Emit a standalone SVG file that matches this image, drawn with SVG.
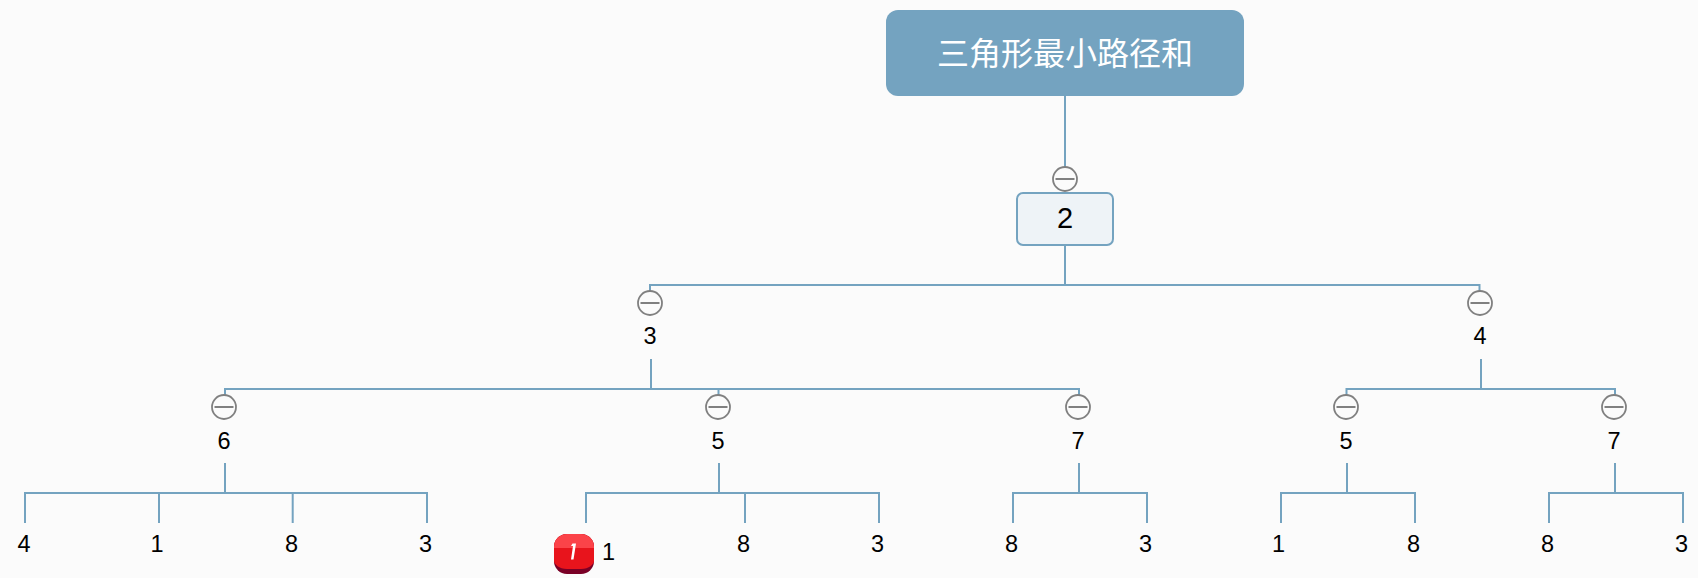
<svg xmlns="http://www.w3.org/2000/svg" width="1698" height="578" viewBox="0 0 1698 578">
<style>
.bg{fill:#fbfbfb}
.c{fill:none;stroke:#74a3c0;stroke-width:2}
.t{font-family:"Liberation Sans",sans-serif;font-size:23.500px;fill:#000;text-anchor:middle}
.root{fill:#74a3c0}
.rt{font-family:"Noto Sans CJK SC",sans-serif;font-size:32px;fill:#fff;text-anchor:middle}
.m circle{fill:#fbfbfb;stroke:#808080;stroke-width:1.800}
.m path{stroke:#808080;stroke-width:2;fill:none}
</style>
<defs>
<g id="minus" class="m"><circle r="12"/><path d="M-9.500 0H9.500"/></g>
</defs>
<rect class="bg" width="1698" height="578"/>
<g id="connectors">
<path class="c" d="M1065 96V168"/>
<path class="c" d="M1065 245V285M650 295V285H1479.500V295"/>
<path class="c" d="M651 359V389M225 399V389H1079V399M718.500 389V399"/>
<path class="c" d="M1481 359V389M1346.500 399V389H1615V399"/>
<path class="c" d="M225 463V493M25 523V493H427V523M159 493V523M292.700 493V523"/>
<path class="c" d="M719 463V493M586 523V493H879V523M745 493V523"/>
<path class="c" d="M1079 463V493M1013 523V493H1147V523"/>
<path class="c" d="M1347 463V493M1281 523V493H1415V523"/>
<path class="c" d="M1615 463V493M1549 523V493H1683V523"/>
</g>
<g id="root"><rect class="root" x="886" y="10" width="358" height="86" rx="12"/><text class="rt" x="1065" y="65">三角形最小路径和</text></g>
<g id="n2"><use href="#minus" x="1065" y="179"/><rect x="1017" y="193" width="96" height="52" rx="6" fill="#eef3f7" stroke="#74a3c0" stroke-width="2"/><text class="t" x="1065" y="228" style="font-size:29px">2</text></g>
<g id="n3"><use href="#minus" x="650" y="303"/><text class="t" x="650" y="344">3</text></g>
<g id="n4"><use href="#minus" x="1480" y="303"/><text class="t" x="1480" y="344">4</text></g>
<g id="n6"><use href="#minus" x="224" y="407"/><text class="t" x="224" y="449">6</text></g>
<g id="n5a"><use href="#minus" x="718" y="407"/><text class="t" x="718" y="449">5</text></g>
<g id="n7a"><use href="#minus" x="1078" y="407"/><text class="t" x="1078" y="449">7</text></g>
<g id="n5b"><use href="#minus" x="1346" y="407"/><text class="t" x="1346" y="449">5</text></g>
<g id="n7b"><use href="#minus" x="1614" y="407"/><text class="t" x="1614" y="449">7</text></g>
<g id="l1"><text class="t" x="24" y="552">4</text></g>
<g id="l2"><text class="t" x="157" y="552">1</text></g>
<g id="l3"><text class="t" x="291.500" y="552">8</text></g>
<g id="l4"><text class="t" x="425.500" y="552">3</text></g>
<g id="l5">
<rect x="554" y="534" width="40" height="40" rx="13" fill="#7a0026"/>
<path d="M554 547a13 13 0 0 1 13-13h14a13 13 0 0 1 13 13v14c0 3-5 8-13 8h-14c-8 0-13-5-13-8z" fill="#e8141c"/>
<path d="M554 548V547a13 13 0 0 1 13-13h14a13 13 0 0 1 13 13v1z" fill="#fb4349"/>
<path d="M572.500 543.500h3.500l-2.500 16h-2.500l2-13.500h-2z" fill="#fff"/>
<text class="t" x="608.500" y="560">1</text></g>
<g id="l6"><text class="t" x="743.500" y="552">8</text></g>
<g id="l7"><text class="t" x="877.500" y="552">3</text></g>
<g id="l8"><text class="t" x="1011.500" y="552">8</text></g>
<g id="l9"><text class="t" x="1145.500" y="552">3</text></g>
<g id="l10"><text class="t" x="1278.500" y="552">1</text></g>
<g id="l11"><text class="t" x="1413.500" y="552">8</text></g>
<g id="l12"><text class="t" x="1547.500" y="552">8</text></g>
<g id="l13"><text class="t" x="1681.500" y="552">3</text></g>
</svg>
